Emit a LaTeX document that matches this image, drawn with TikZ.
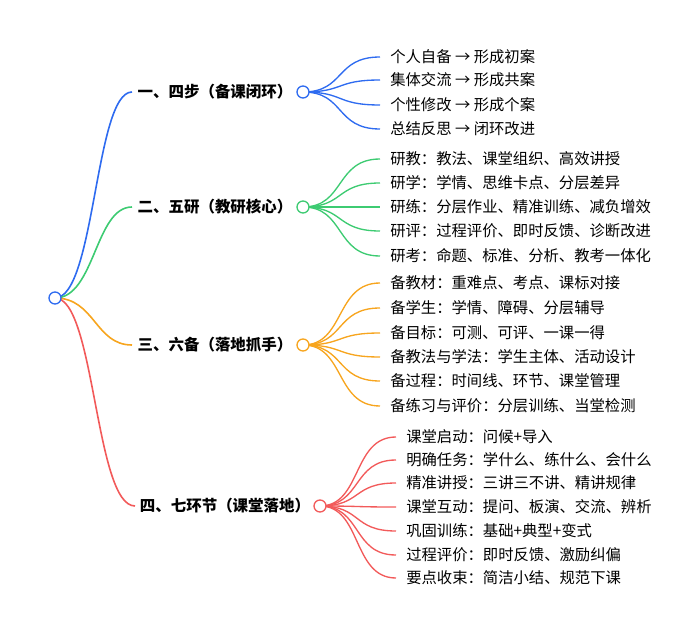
\documentclass[tikz,border=0pt]{standalone}
\usepackage{fontspec}
\newfontfamily\cjk{Noto Sans CJK SC}
\definecolor{cblue}{HTML}{2E6BF0}
\definecolor{cgreen}{HTML}{3DCB72}
\definecolor{corange}{HTML}{F7A51E}
\definecolor{cred}{HTML}{F25A5A}
\tikzset{
  branch/.style={line width=1.2pt},
  twig/.style={line width=1pt},
  hub/.style={circle,draw=#1,fill=white,line width=1pt,inner sep=0pt,minimum size=9pt},
  topic/.style={anchor=center,font=\cjk\fontsize{11.6}{13}\selectfont\bfseries},
  leaf/.style={anchor=west,inner sep=0pt,font=\cjk\fontsize{11.5}{13}\selectfont}
}
\begin{document}
\begin{tikzpicture}[x=0.75pt,y=-0.75pt]
\useasboundingbox (0,0) rectangle (700,635);

% root and topics
\coordinate (r) at (55,298);
\node[topic] (t1) at (215,92) {一、四步（备课闭环）};
\node[topic] (t2) at (215,207) {二、五研（教研核心）};
\node[topic] (t3) at (215,345) {三、六备（落地抓手）};
\node[topic] (t4) at (225,506) {四、七环节（课堂落地）};
\coordinate (e1) at (132,92);
\coordinate (e2) at (132,207);
\coordinate (e3) at (132,345);
\coordinate (e4) at (135,506);

\draw[branch,cblue] (r) .. controls (95,298) and (95,92) .. (e1);
\draw[branch,cgreen] (r) .. controls (95,298) and (95,207) .. (e2);
\draw[branch,corange] (r) .. controls (95,298) and (95,345) .. (e3);
\draw[branch,cred] (r) .. controls (95,298) and (95,506) .. (e4);

% four steps
\foreach \y/\txt [count=\i] in {57/个人自备 → 形成初案, 80/集体交流 → 形成共案,
  105/个性修改 → 形成个案, 129/总结反思 → 闭环改进}{
  \node[leaf] (a\i) at (390,\y) {\txt};
  \draw[twig,cblue] (303,92) .. controls (345,92) and (335,\y) .. ([xshift=-7.5pt]a\i.west);
}
\node[hub=cblue] (h1) at (303,92) {};

% five research
\foreach \y/\txt [count=\i] in {159/研教：教法、课堂组织、高效讲授, 183/研学：学情、思维卡点、分层差异,
  207/研练：分层作业、精准训练、减负增效, 231/研评：过程评价、即时反馈、诊断改进,
  256/研考：命题、标准、分析、教考一体化}{
  \node[leaf] (b\i) at (390,\y) {\txt};
  \draw[twig,cgreen] (303,207) .. controls (345,207) and (335,\y) .. ([xshift=-7.5pt]b\i.west);
}
\node[hub=cgreen] (h2) at (303,207) {};

% six preparations
\foreach \y/\txt [count=\i] in {283/备教材：重难点、考点、课标对接, 308/备学生：学情、障碍、分层辅导,
  333/备目标：可测、可评、一课一得, 357/备教法与学法：学生主体、活动设计,
  381/备过程：时间线、环节、课堂管理, 406/备练习与评价：分层训练、当堂检测}{
  \node[leaf] (c\i) at (390,\y) {\txt};
  \draw[twig,corange] (303,345) .. controls (345,345) and (335,\y) .. ([xshift=-7.5pt]c\i.west);
}
\node[hub=corange] (h3) at (303,345) {};

% seven links
\foreach \y/\txt [count=\i] in {437/课堂启动：问候+导入, 460/明确任务：学什么、练什么、会什么,
  483/精准讲授：三讲三不讲、精讲规律, 507/课堂互动：提问、板演、交流、辨析,
  531/巩固训练：基础+典型+变式, 555/过程评价：即时反馈、激励纠偏, 578/要点收束：简洁小结、规范下课}{
  \node[leaf] (d\i) at (406,\y) {\txt};
  \draw[twig,cred] (320,506) .. controls (362,506) and (352,\y) .. ([xshift=-7.5pt]d\i.west);
}
\node[hub=cred] (h4) at (320,506) {};

\node[hub=cblue] (root) at (r) {};
\end{tikzpicture}
\end{document}
